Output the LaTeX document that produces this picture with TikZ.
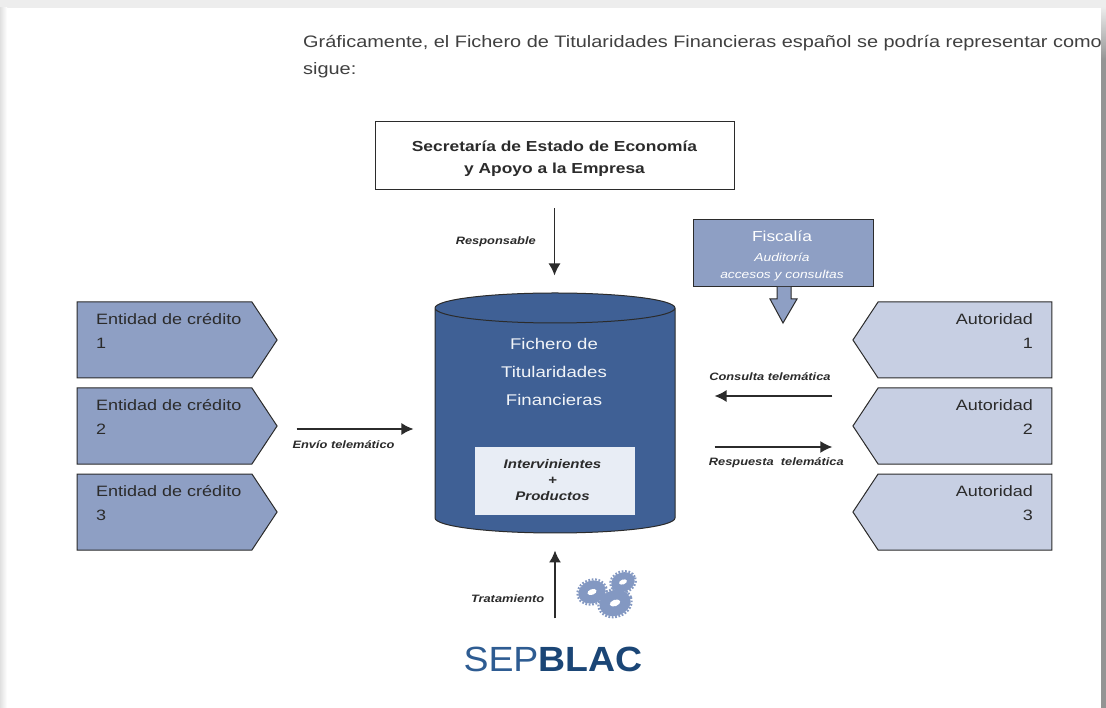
\documentclass[tikz,border=0pt]{standalone}
\usepackage{fontspec}
\setmainfont[FakeStretch=1.2]{Liberation Sans}
\newfontfamily\logofont[FakeStretch=1.07]{Liberation Sans}
\usetikzlibrary{positioning,arrows.meta,shapes.geometric,shapes.symbols}
\definecolor{azulosc}{HTML}{3F6095}
\definecolor{azulmed}{HTML}{8E9FC4}
\definecolor{azulcla}{HTML}{C7CFE3}
\definecolor{azulfon}{HTML}{E8EDF5}
\definecolor{linea}{HTML}{2B2B2B}
\definecolor{rueda}{HTML}{8398C2}
\definecolor{logosep}{HTML}{2E5C92}
\definecolor{logoblac}{HTML}{1B4676}
\newcommand{\ruedita}[3]{%
   \fill [rueda, rotate around={20:(#1,#2)}] (#1,#2) ellipse [x radius=#3, y radius=0.8*#3];
   \draw [rueda, line width=2.2pt, dash pattern=on 1.7pt off 1.7pt, rotate around={20:(#1,#2)}]
      (#1,#2) ellipse [x radius=#3+1, y radius=0.8*#3+1];
   \fill [white, rotate around={20:(#1,#2)}] (#1,#2) ellipse [x radius=0.34*#3, y radius=0.2*#3];
}
\begin{document}
\begin{tikzpicture} [
   x=1pt, y=-1pt, font=\fontsize{15}{18}\selectfont,
   flecha/.style={-{Latex[length=12pt,width=12pt]}, draw=linea, line width=1.5pt},
   rotulo/.style={font=\fontsize{10.7}{12}\selectfont\bfseries\itshape, text=linea, inner sep=0pt},
   parrafo/.style={anchor=west, inner sep=0pt, text=linea!90!white, font=\fontsize{16.6}{20}\selectfont},
   entidad/.style={shape=signal, signal to=east, signal pointer angle=113, draw=linea, line width=1pt,
      fill=azulmed, minimum width=200pt, minimum height=76pt, inner sep=0pt},
   autoridad/.style={shape=signal, signal to=west, signal pointer angle=113, draw=linea, line width=1pt,
      fill=azulcla, minimum width=199pt, minimum height=76pt, inner sep=0pt},
   textoent/.style={align=left, anchor=north west, inner sep=0pt, text=linea, font=\fontsize{15}{24}\selectfont},
   textoaut/.style={align=right, anchor=north east, inner sep=0pt, text=linea, font=\fontsize{15}{24}\selectfont},
   caja/.style={draw=linea, line width=1pt}
]
   % fondo
   \useasboundingbox (0,0) rectangle (1106,708);
   \fill [black!7] (0,0) rectangle (1106,708);
   \fill [left color=black!12, right color=white] (0,8) rectangle (7,708);
   \fill [white] (7,8) rectangle (1101,708);

   % parrafo
   \node (linea1) [parrafo] at (303,43) {Gráficamente, el Fichero de Titularidades Financieras español se podría representar como};
   \node (linea2) [parrafo] at (303,70) {sigue:};
   \fill [black!42] (1101,60) rectangle (1106,708);
   \fill [top color=black!8, bottom color=black!42] (1101,8) rectangle (1106,60);

   % cajas
   \node (secretaria) [caja, minimum width=359pt, minimum height=68pt] at (554.5,156) {};
   \node (secretariat) [align=center, font=\fontsize{14.5}{22}\selectfont\bfseries, text=linea] at (554.5,159)
      {Secretaría de Estado de Economía\\y Apoyo a la Empresa};
   \node (fiscalia) [caja, fill=azulmed, minimum width=180pt, minimum height=67pt] at (783,253.5) {};
   \draw [caja, fill=azulmed] (777,287) -- (777,299) -- (770,299) -- (783,323) -- (797,299) -- (791,299) -- (791,287);
   \node (fiscaliat) [text=white, font=\fontsize{14.5}{18}\selectfont] at (782,236) {Fiscalía};
   \node (auditoria) [text=white, below=8pt of fiscaliat, align=center,
      font=\fontsize{11.5}{17}\selectfont\itshape, inner sep=0pt] {Auditoría\\accesos y consultas};

   % fichero
   \node (fichero) [shape=cylinder, shape border rotate=90, aspect=4.5, draw=linea, line width=1pt,
      cylinder uses custom fill, cylinder body fill=azulosc, cylinder end fill=azulosc,
      minimum height=240pt, minimum width=240pt] at (555,422.5) {};
   \node (ficherot) [text=white!93!azulosc, align=center, font=\fontsize{15.5}{28}\selectfont] at (554,372)
      {Fichero de\\Titularidades\\Financieras};
   \node (contenido) [fill=azulfon, minimum width=160pt, minimum height=68pt] at (555,481) {};
   \node (contenidot) [align=center, text=linea, font=\fontsize{12.5}{16}\selectfont\bfseries\itshape] at (552.5,480)
      {Intervinientes\\+\\Productos};

   % entidades y autoridades
   \foreach \n/\y in {1/340,2/426,3/512}{
      \node (ent\n) [entidad] at (164.5,\y) {};
      \node (aut\n) [autoridad] at (965,\y) {};
      \node (entt\n) [textoent] at (96,\y-27) {Entidad de crédito\\\n};
      \node (autt\n) [textoaut] at (1033,\y-27) {Autoridad\\\n};
   }

   % logo
   \node (sepblac) [font=\fontsize{35}{40}\selectfont\logofont, text=logosep, inner sep=0pt] at (553,659)
      {SEP\textbf{\textcolor{logoblac}{BLAC}}};
   \ruedita{592}{592}{14}
   \ruedita{623}{582}{12}
   \ruedita{615}{603}{16}

   % flechas
   \draw [flecha, shorten <=18pt, shorten >=17pt] (secretaria.south) -- node (resp) [rotulo, left=18pt, pos=0.5] {Responsable} (secretaria.south |- fichero.north);
   \draw [flecha, shorten <=19pt, shorten >=21pt] ([yshift=-3pt]ent2.east) -- node (envio) [rotulo, below=11pt, pos=0.42] {Envío telemático} ([yshift=-3pt]ent2.east -| fichero.west);
   \draw [flecha, shorten <=20pt, shorten >=39pt] ([yshift=30pt]aut2.west) -- node (cons) [rotulo, above=15pt, pos=0.466] {Consulta telemática} ([yshift=30pt]aut2.west -| fichero.east);
   \draw [flecha, shorten <=39pt, shorten >=20pt] ([yshift=-21pt]aut2.west -| fichero.east) -- node (res) [rotulo, below=10pt, pos=0.57] {Respuesta\ \ telemática} ([yshift=-21pt]aut2.west);
   \draw [flecha, shorten <=28pt, shorten >=17pt] (sepblac.north -| fichero.south) -- node (trat) [rotulo, left=10pt, pos=0.42] {Tratamiento} (fichero.south);
\end{tikzpicture}
\end{document}
